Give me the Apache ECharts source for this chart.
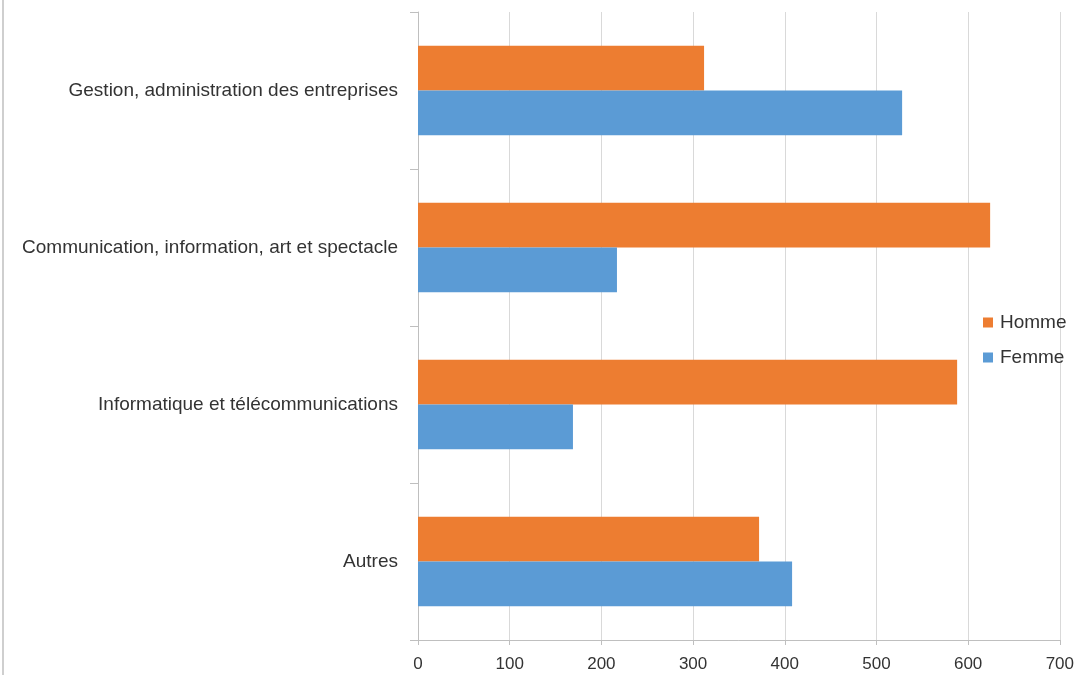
<!DOCTYPE html>
<html><head><meta charset="utf-8">
<script src="https://cdn.jsdelivr.net/npm/echarts@6/dist/echarts.min.js"></script>
<style>html,body{margin:0;padding:0;background:#fff}#c{width:1077px;height:675px}</style>
</head><body><div id="c"></div>
<script>
const categories = ['Autres', 'Informatique et télécommunications', 'Communication, information, art et spectacle', 'Gestion, administration des entreprises'];
const femme = [408, 169, 217, 528];
const homme = [372, 588, 624, 312];
const xTicks = {min: 0, max: 700, interval: 100};

const chart = echarts.init(document.getElementById('c'));
const font = "'Liberation Sans', 'DejaVu Sans', sans-serif";
chart.setOption({
  animation: false,
  textStyle: {fontFamily: font},
  grid: {left: 418, right: 16, top: 12, bottom: 35, containLabel: false},
  legend: {
    orient: 'vertical', left: 983, top: 313, padding: 0,
    data: ['Homme', 'Femme'],
    icon: 'rect', itemWidth: 10, itemHeight: 10, itemGap: 16,
    textStyle: {fontSize: 19, color: '#333', fontFamily: font, padding: [0, 0, 0, 2]}
  },
  xAxis: {
    type: 'value', min: xTicks.min, max: xTicks.max, interval: xTicks.interval,
    axisLine: {show: true, lineStyle: {color: '#bfbfbf'}},
    axisTick: {show: true, length: 5, lineStyle: {color: '#bfbfbf'}},
    axisLabel: {fontSize: 17, color: '#333', margin: 16, fontFamily: font},
    splitLine: {show: true, lineStyle: {color: '#d9d9d9'}}
  },
  yAxis: {
    type: 'category', data: categories,
    axisLine: {show: true, lineStyle: {color: '#bfbfbf'}},
    axisTick: {show: true, length: 8, lineStyle: {color: '#bfbfbf'}},
    axisLabel: {fontSize: 19, color: '#333', margin: 20, fontFamily: font}
  },
  series: [
    {name: 'Homme', type: 'bar', data: homme, itemStyle: {color: '#ED7D31'}, barGap: '0%', barCategoryGap: '43%'},
    {name: 'Femme', type: 'bar', data: femme, itemStyle: {color: '#5B9BD5'}, barGap: '0%', barCategoryGap: '43%'}
  ],
  graphic: [{type: 'line', shape: {x1: 3, y1: 0, x2: 3, y2: 675}, style: {stroke: '#bfbfbf', lineWidth: 1.5}}]
});
</script></body></html>
